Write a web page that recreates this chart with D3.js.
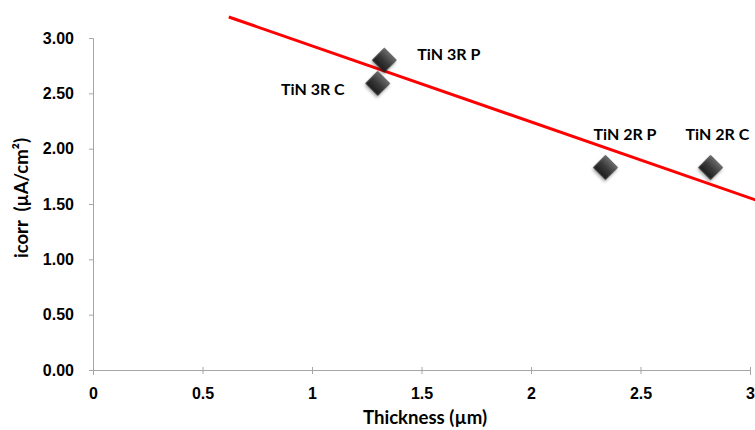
<!DOCTYPE html>
<html lang="en">
<head>
<meta charset="UTF-8">
<title>icorr vs Thickness</title>
<script src="https://d3js.org/d3.v7.min.js"></script>
<style>
  body { margin: 0; background: #fff; }
  svg { font-family: Lato, "Open Sans", sans-serif; }
  .tick text { font-size: 16px; font-weight: bold; fill: #000; }
  .axis-title { font-size: 16px; font-weight: bold; white-space: pre; }
  .pt-label { font-size: 16px; font-weight: bold; }
</style>
</head>
<body>
<div id="chart"></div>
<script>
// data
const labels = ["TiN 3R P", "TiN 3R C", "TiN 2R P", "TiN 2R C"];
const thickness = [1.33, 1.30, 2.34, 2.82];
const icorr = [2.80, 2.59, 1.83, 1.83];
const xTicks = [0, 0.5, 1, 1.5, 2, 2.5, 3];
const yTicks = [0, 0.5, 1, 1.5, 2, 2.5, 3];
// linear trend line (endpoints)
const trendX = [0.62, 3.05];
const trendY = [3.19, 1.52];

const width = 755, height = 430;
const svg = d3.select("#chart").append("svg").attr("width", width).attr("height", height);

const x = d3.scaleLinear().domain([0, 3]).range([93, 750]);
const y = d3.scaleLinear().domain([0, 3]).range([370, 38]);

const defs = svg.append("defs");
const grad = defs.append("linearGradient").attr("id", "dia").attr("x1", 0).attr("y1", 0).attr("x2", 0).attr("y2", 1);
grad.append("stop").attr("offset", "0%").attr("stop-color", "#6a6a6a");
grad.append("stop").attr("offset", "50%").attr("stop-color", "#3a3a3a");
grad.append("stop").attr("offset", "100%").attr("stop-color", "#1e1e1e");
const sh = defs.append("filter").attr("id", "shadow").attr("x", "-50%").attr("y", "-50%").attr("width", "200%").attr("height", "200%");
sh.append("feDropShadow").attr("dx", 1).attr("dy", 2).attr("stdDeviation", 1.5).attr("flood-color", "#000").attr("flood-opacity", 0.35);

// axes
const xAxis = svg.append("g").attr("transform", "translate(0,370)")
  .call(d3.axisBottom(x).tickValues(xTicks).tickFormat(d3.format("")).tickSize(5).tickPadding(13));
const yAxis = svg.append("g").attr("transform", "translate(93,0)")
  .call(d3.axisLeft(y).tickValues(yTicks).tickFormat(d3.format(".2f")).tickSize(4).tickPadding(15));
[xAxis, yAxis].forEach(g => {
  g.select(".domain").attr("stroke", "#a6a6a6");
  g.selectAll(".tick line").attr("stroke", "#a6a6a6");
});
xAxis.selectAll(".tick line").attr("y1", -3).attr("y2", 4);

// axis titles, font size fitted to the length seen in the picture
function fitTitle(el, target) {
  const len = el.node().getComputedTextLength();
  el.style("font-size", (16 * target / len).toFixed(1) + "px");
}
const xTitle = svg.append("text").attr("class", "axis-title")
  .attr("x", 425).attr("y", 424).attr("text-anchor", "middle").text("Thickness (µm)");
const yTitle = svg.append("text").attr("class", "axis-title")
  .attr("transform", "translate(28,198) rotate(-90)").attr("text-anchor", "middle")
  .text("icorr  (µA/cm²)");
fitTitle(xTitle, 124);
fitTitle(yTitle, 120);

// trend line
svg.append("line")
  .attr("x1", x(trendX[0])).attr("y1", y(trendY[0]))
  .attr("x2", x(trendX[1])).attr("y2", y(trendY[1]))
  .attr("stroke", "#ff0000").attr("stroke-width", 3);

// points
const pts = labels.map((l, i) => ({ label: l, x: thickness[i], y: icorr[i] }));
const sym = d3.symbol().type(d3.symbolSquare).size(290);
svg.selectAll("path.pt").data(pts).enter().append("path")
  .attr("class", "pt")
  .attr("d", sym)
  .attr("transform", d => `translate(${x(d.x)},${y(d.y)}) rotate(45)`)
  .attr("fill", "url(#dia)")
  .attr("stroke", "#222").attr("stroke-width", 0.5)
  .attr("filter", "url(#shadow)");

// point labels
const labelOffset = [[33, 0, "start"], [-33, 12, "end"], [-12, -27, "start"], [-25, -27, "start"]];
svg.selectAll("text.pt-label").data(pts).enter().append("text")
  .attr("class", "pt-label")
  .attr("x", (d, i) => x(d.x) + labelOffset[i][0])
  .attr("y", (d, i) => y(d.y) + labelOffset[i][1])
  .attr("text-anchor", (d, i) => labelOffset[i][2])
  .text(d => d.label);
</script>
</body>
</html>
